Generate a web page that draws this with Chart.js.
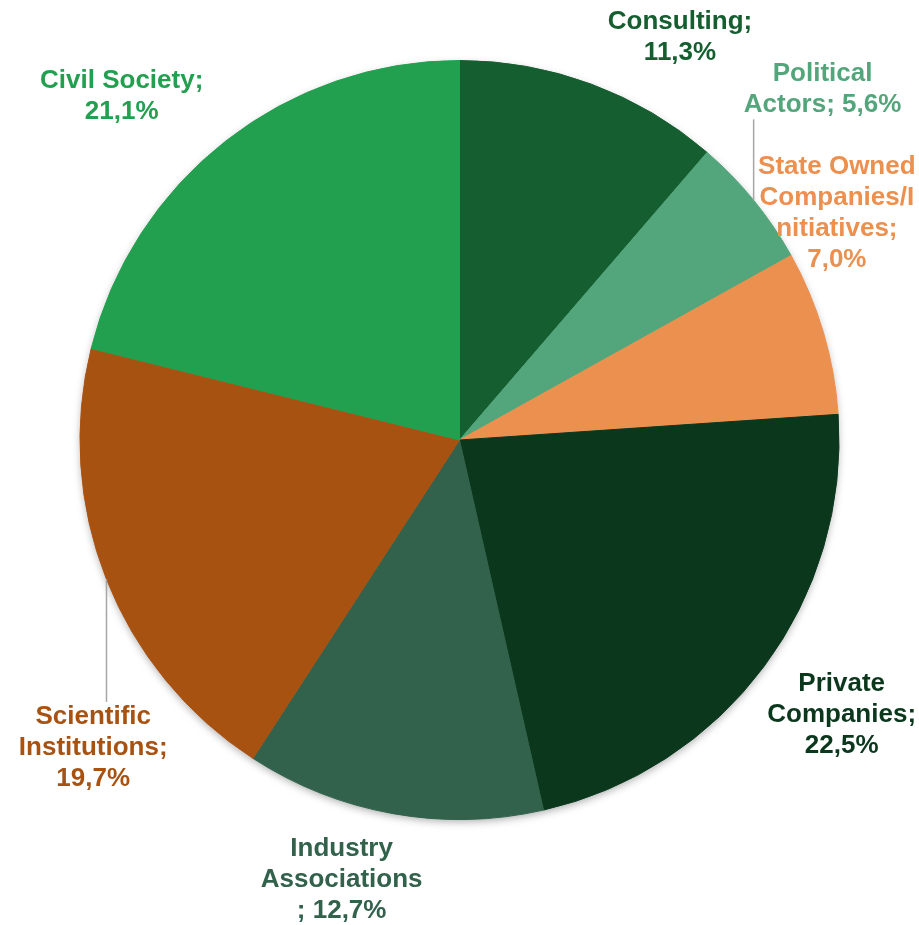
<!DOCTYPE html>
<html>
<head>
<meta charset="utf-8">
<script src="https://cdn.jsdelivr.net/npm/chart.js@4/dist/chart.umd.min.js"></script>
<style>
  body { margin: 0; background: #fff; }
  #wrap { width: 919px; height: 925px; }
</style>
</head>
<body>
<div id="wrap"><canvas id="pie" width="919" height="925"></canvas></div>
<script>
// data
const categories = ['Consulting', 'Political Actors', 'State Owned Companies/Initiatives',
    'Private Companies', 'Industry Associations', 'Scientific Institutions', 'Civil Society'];
const shares = [11.3, 5.6, 7.0, 22.5, 12.7, 19.7, 21.1];
const sliceColors = ['#145e2f', '#53a67b', '#ec904f', '#0b371d', '#32624b', '#a85212', '#22a04f'];
// how the label text wraps, {v} is replaced by the value
const labelWraps = [
    ['Consulting;', '{v}'],
    ['Political', 'Actors; {v}'],
    ['State Owned', 'Companies/I', 'nitiatives;', '{v}'],
    ['Private', 'Companies;', '{v}'],
    ['Industry', 'Associations', '; {v}'],
    ['Scientific', 'Institutions;', '{v}'],
    ['Civil Society;', '{v}']
];

// label placement: angle from 12 o'clock (deg, clockwise) and distance in radii
const labelPlace = [
    { ang: 28.7, dist: 1.21 },
    { ang: 46.0, dist: 1.33, leader: true },
    { ang: 59.0, dist: 1.16 },
    { ang: 125.7, dist: 1.24 },
    { ang: 195.0, dist: 1.20 },
    { ang: 230.0, dist: 1.26, leader: true },
    { ang: 315.5, dist: 1.27 }
];

function fmt(v) {
    return v.toFixed(1).replace('.', ',') + '%';
}

// soft shadow behind the whole pie
const pieShadow = {
    id: 'pieShadow',
    beforeDatasetsDraw(chart) {
        const arc = chart.getDatasetMeta(0).data[0];
        if (!arc) return;
        const ctx = chart.ctx;
        ctx.save();
        ctx.shadowColor = 'rgba(0,0,0,0.35)';
        ctx.shadowBlur = 9;
        ctx.shadowOffsetY = 3;
        ctx.fillStyle = '#ffffff';
        ctx.beginPath();
        ctx.arc(arc.x, arc.y, arc.outerRadius - 1, 0, Math.PI * 2);
        ctx.fill();
        ctx.restore();
    }
};

// outside labels with leader lines
const outsideLabels = {
    id: 'outsideLabels',
    afterDatasetsDraw(chart) {
        const ctx = chart.ctx;
        const meta = chart.getDatasetMeta(0);
        const lineH = 31;
        ctx.save();
        ctx.font = 'bold 26px "Liberation Sans", Arial, sans-serif';
        ctx.textAlign = 'center';
        ctx.textBaseline = 'middle';
        meta.data.forEach((arc, i) => {
            const p = labelPlace[i];
            const r = arc.outerRadius;
            const a = p.ang * Math.PI / 180;
            const cx = arc.x + Math.sin(a) * r * p.dist;
            const cy = arc.y - Math.cos(a) * r * p.dist;
            const lines = labelWraps[i].map(s => s.replace('{v}', fmt(shares[i])));
            const top = cy - (lines.length - 1) * lineH / 2;

            if (p.leader) {
                const mid = (arc.startAngle + arc.endAngle) / 2;
                const ex = arc.x + Math.cos(mid) * r;
                const ey = arc.y + Math.sin(mid) * r;
                const blockTop = top - lineH / 2;
                const blockBot = top + (lines.length - 1) * lineH + lineH / 2;
                const ty = ey < cy ? blockTop + 1 : blockBot - 1;
                ctx.strokeStyle = '#a6a6a6';
                ctx.lineWidth = 1.5;
                ctx.beginPath();
                ctx.moveTo(ex, ey);
                ctx.lineTo(ex, ty);
                ctx.stroke();
            }

            ctx.fillStyle = sliceColors[i];
            lines.forEach((s, k) => ctx.fillText(s, cx, top + k * lineH));
        });
        ctx.restore();
    }
};

new Chart(document.getElementById('pie'), {
    type: 'pie',
    data: {
        labels: categories,
        datasets: [{
            data: shares,
            backgroundColor: sliceColors,
            borderColor: sliceColors,
            borderWidth: 1
        }]
    },
    options: {
        responsive: false,
        animation: false,
        layout: { padding: { top: 60, bottom: 105, left: 0, right: 0 } },
        plugins: {
            legend: { display: false },
            tooltip: { enabled: false }
        }
    },
    plugins: [pieShadow, outsideLabels]
});
</script>
</body>
</html>
